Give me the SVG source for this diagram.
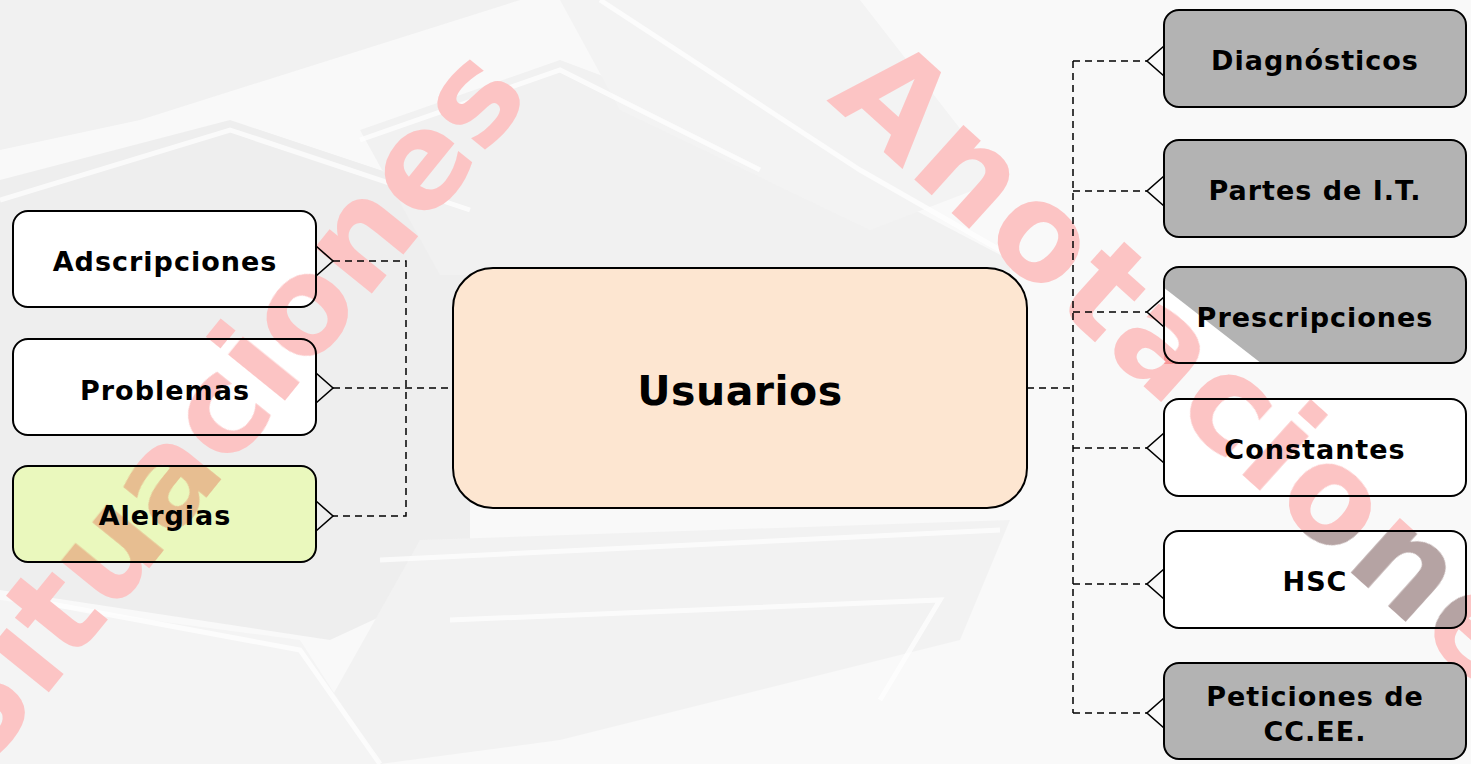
<svg xmlns="http://www.w3.org/2000/svg" width="1471" height="764" viewBox="0 0 1471 764">
<style>
.box{stroke:#000;stroke-width:2}
.white{fill:#ffffff}
.gray{fill:#b3b3b3}
.lbl{font-family:"DejaVu Sans","Liberation Sans",sans-serif;font-weight:bold;font-size:27px;letter-spacing:1px;fill:#000;text-anchor:middle}
.big{font-size:41px;letter-spacing:0.5px}
.dash{fill:none;stroke:#000;stroke-width:1.5;stroke-dasharray:7 5}
.chev{fill:none;stroke:#000;stroke-width:1.6}
.wm{font-family:"DejaVu Sans","Liberation Sans",sans-serif;font-weight:bold;font-size:134px;fill:#fcc4c4}
.wm2{letter-spacing:4px}
.band{fill:none;stroke:#ffffff;stroke-width:5;opacity:0.7}
</style>
<defs>
<clipPath id="cpPresc"><rect x="1164" y="267" width="302" height="96" rx="15"/></clipPath>
<clipPath id="cpHsc"><rect x="1164" y="531" width="302" height="97" rx="15"/></clipPath>
<clipPath id="cpBoxes">
<rect x="13" y="211" width="303" height="96" rx="15"/>
<rect x="13" y="339" width="303" height="96" rx="15"/>
<rect x="13" y="466" width="303" height="96" rx="15"/>
<rect x="1164" y="399" width="302" height="97" rx="15"/>
<polygon points="1164,288 1262,364 1164,364"/>
</clipPath>
<g id="wmText">
<text class="wm" transform="translate(-19,776) rotate(-51)">Situaciones</text>
<text class="wm wm2" transform="translate(826,100) rotate(42)">Anotaciones</text>
</g>
</defs>

<g id="background">
<rect x="0" y="0" width="1471" height="764" fill="#f9f9f9"/>
<polygon points="0,180 230,120 470,200 470,575 330,640 0,590" fill="#eeeeee"/>
<polygon points="360,130 560,60 800,150 1010,260 1010,275 440,275" fill="#f1f1f1"/>
<polygon points="0,0 520,0 140,120 0,150" fill="#f1f1f1"/>
<polygon points="560,0 860,0 1000,180 870,230 620,110" fill="#f3f3f3"/>
<polygon points="420,540 1010,520 960,640 560,740 380,764 330,700" fill="#f2f2f2"/>
<polygon points="0,600 300,640 380,764 0,764" fill="#f4f4f4"/>
<path class="band" d="M0,200 L230,130 L470,210"/>
<path class="band" d="M30,600 L300,650 L380,764"/>
<path class="band" d="M380,560 L1000,530"/>
<path class="band" d="M450,620 L940,600 L880,700"/>
<path class="band" d="M600,0 L860,170 L1000,250"/>
<path class="band" d="M360,140 L560,70 L760,170"/>
</g>

<g id="watermark-back">
<use href="#wmText"/>
</g>

<g id="connectors">
<path class="dash" d="M333,261 H406 V516 H333"/>
<path class="dash" d="M333,388 H453"/>
<path class="dash" d="M1027,388 H1073"/>
<path class="dash" d="M1073,61 V713"/>
<path class="dash" d="M1073,61 H1147 M1073,191 H1147 M1073,312 H1147 M1073,448 H1147 M1073,584 H1147 M1073,713 H1147"/>
<polyline class="chev" points="316,246 333,261 316,276"/>
<polyline class="chev" points="316,373 333,388 316,403"/>
<polyline class="chev" points="316,501 333,516 316,531"/>
<polyline class="chev" points="1164,46 1147,61 1164,76"/>
<polyline class="chev" points="1164,176 1147,191 1164,206"/>
<polyline class="chev" points="1164,297 1147,312 1164,327"/>
<polyline class="chev" points="1164,433 1147,448 1164,463"/>
<polyline class="chev" points="1164,569 1147,584 1164,599"/>
<polyline class="chev" points="1164,698 1147,713 1164,728"/>
</g>

<g id="node-usuarios">
<rect class="box" x="453" y="268" width="574" height="240" rx="40" fill="#fde6d1"/>
<text class="lbl big" x="740" y="405">Usuarios</text>
</g>

<g id="node-adscripciones">
<rect class="box white" x="13" y="211" width="303" height="96" rx="15"/>
<text class="lbl" x="165" y="271">Adscripciones</text>
</g>
<g id="node-problemas">
<rect class="box white" x="13" y="339" width="303" height="96" rx="15"/>
<text class="lbl" x="165" y="400">Problemas</text>
</g>
<g id="node-alergias">
<rect class="box" x="13" y="466" width="303" height="96" rx="15" fill="#eaf8bd"/>
<text class="lbl" x="165" y="525">Alergias</text>
</g>

<g id="node-diagnosticos">
<rect class="box gray" x="1164" y="10" width="302" height="97" rx="15"/>
<text class="lbl" x="1315" y="70">Diagnósticos</text>
</g>
<g id="node-partes">
<rect class="box gray" x="1164" y="140" width="302" height="97" rx="15"/>
<text class="lbl" x="1315" y="200">Partes de I.T.</text>
</g>
<g id="node-prescripciones">
<rect x="1164" y="267" width="302" height="96" rx="15" class="gray"/>
<polygon points="1150,277 1266,367 1150,367" fill="#ffffff" clip-path="url(#cpPresc)"/>
<rect class="box" x="1164" y="267" width="302" height="96" rx="15" fill="none"/>
<text class="lbl" x="1315" y="327">Prescripciones</text>
</g>
<g id="node-constantes">
<rect class="box white" x="1164" y="399" width="302" height="97" rx="15"/>
<text class="lbl" x="1315" y="459">Constantes</text>
</g>
<g id="node-hsc">
<rect class="box white" x="1164" y="531" width="302" height="97" rx="15"/>
<text class="lbl" x="1315" y="591">HSC</text>
</g>
<g id="node-peticiones">
<rect class="box gray" x="1164" y="663" width="302" height="96" rx="15"/>
<text class="lbl" x="1315" y="706">Peticiones de</text>
<text class="lbl" x="1315" y="741">CC.EE.</text>
</g>

<g id="watermark-front">
<g clip-path="url(#cpBoxes)" style="mix-blend-mode:multiply">
<use href="#wmText"/>
</g>
<g clip-path="url(#cpHsc)" style="mix-blend-mode:multiply">
<text class="wm wm2" style="fill:#b5a3a3" transform="translate(826,100) rotate(42)">Anotaciones</text>
</g>
</g>
</svg>
